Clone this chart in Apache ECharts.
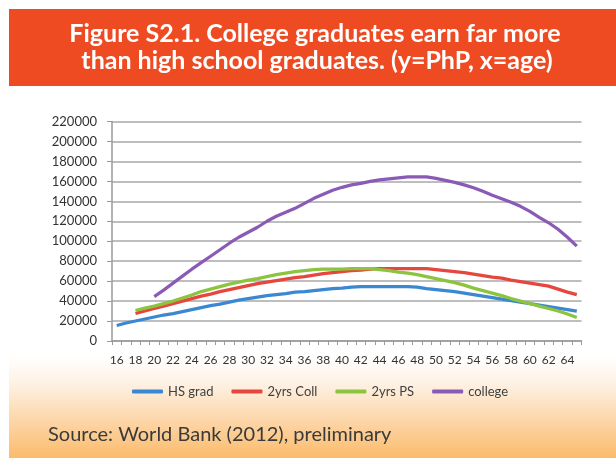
<!DOCTYPE html>
<html>
<head>
<meta charset="utf-8">
<script src="https://cdn.jsdelivr.net/npm/echarts@6/dist/echarts.min.js"></script>
<style>
html,body{margin:0;padding:0;background:#fff;}
#chart{width:616px;height:458px;}
</style>
</head>
<body>
<div id="chart"></div>
<script>
// ---- data ----
var ages = [];
for (var a = 16; a <= 65; a++) ages.push(String(a));

var seriesNames = ['HS grad', '2yrs Coll', '2yrs PS', 'college'];

var hsGrad = [15500,18000,20000,22000,24000,26000,27500,29500,31500,33500,
  35500,37000,39000,41000,42500,44000,45500,46500,47500,49000,
  49500,50500,51500,52500,53000,54000,54500,54500,54500,54500,
  54500,54500,54000,52500,51500,50500,49500,48000,46500,45000,
  43500,42000,40500,39000,37500,36000,34500,33000,31500,30000];

var twoYrsColl = [null,null,27500,30000,32500,35000,37500,40000,42500,45000,
  47000,49500,51500,53500,55500,57500,59000,60500,62000,63500,
  64500,66000,67500,68500,69500,70500,71000,72000,72500,72500,
  72500,72500,72500,72500,71500,70500,69500,68500,67000,65500,
  64000,63000,61000,59500,58000,56500,55000,52000,49000,46500];

var twoYrsPS = [null,null,30500,33000,35000,37500,40000,43000,46000,49500,
  52000,54500,57000,59000,61000,62500,64500,66500,68000,69500,
  70500,71500,72000,72000,72000,72500,72500,72500,71500,70500,
  69000,68000,66500,64500,62500,60500,58500,56000,53000,50500,
  48000,45500,42500,40000,37500,35000,32500,30000,27000,23500];

var college = [null,null,null,null,44500,51000,58000,65000,72000,78500,
  85000,91500,98000,104000,109000,114000,120000,125000,129000,133000,
  138000,143000,147000,151000,154000,156500,158000,160000,161500,162500,
  163500,164500,164500,164500,163000,161000,159000,156500,153500,150000,
  146000,142500,139000,135000,130000,124000,118500,112000,104000,95000];

var yTicks = [0,20000,40000,60000,80000,100000,120000,140000,160000,180000,200000,220000];

var titleLines = ['Figure S2.1. College graduates earn far more', 'than high school graduates. (y=PhP, x=age)'];
var sourceText = 'Source: World Bank (2012), preliminary';

var colors = ['#3a87d2', '#e5463d', '#8cc440', '#8a5bb6'];
var values = [hsGrad, twoYrsColl, twoYrsPS, college];

// ---- chart ----
var chart = echarts.init(document.getElementById('chart'), null, {renderer: 'canvas'});

var series = seriesNames.map(function (n, i) {
  return {
    name: n,
    type: 'line',
    data: values[i],
    showSymbol: false,
    symbol: 'none',
    connectNulls: false,
    lineStyle: {width: 3.2, color: colors[i]},
    itemStyle: {color: colors[i]},
    z: 3
  };
});

var titleStyle = {
  fill: '#ffffff',
  font: 'bold 25px Lato',
  textAlign: 'center',
  textVerticalAlign: 'middle'
};

chart.setOption({
  animation: false,
  backgroundColor: '#ffffff',
  graphic: [
    {
      type: 'rect', z: -10, silent: true,
      shape: {x: 9, y: 355, width: 607, height: 103},
      style: {
        fill: new echarts.graphic.LinearGradient(0, 0, 0, 1, [
          {offset: 0, color: '#ffffff'},
          {offset: 0.25, color: '#fef3e8'},
          {offset: 1, color: '#fbbb6c'}
        ])
      }
    },
    {
      type: 'rect', z: -10, silent: true,
      shape: {x: 9, y: 9, width: 607, height: 77},
      style: {fill: '#ef4b23'}
    },
    {
      type: 'text', z: 10, silent: true,
      x: 315, y: 34,
      style: Object.assign({text: titleLines[0]}, titleStyle)
    },
    {
      type: 'text', z: 10, silent: true,
      x: 317, y: 61,
      style: Object.assign({text: titleLines[1]}, titleStyle)
    }
  ],
  title: {
    text: sourceText,
    left: 48,
    top: 425,
    padding: 0,
    textStyle: {
      color: '#3a3a3a',
      fontFamily: 'Lato',
      fontWeight: 'normal',
      fontSize: 20
    }
  },
  legend: {
    data: seriesNames,
    left: 132,
    top: 385,
    padding: 0,
    itemWidth: 31,
    itemHeight: 4,
    itemGap: 18,
    icon: 'roundRect',
    textStyle: {color: '#404040', fontFamily: 'Lato', fontSize: 13}
  },
  grid: {left: 112, right: 34.5, top: 121.5, bottom: 117, containLabel: false},
  xAxis: {
    type: 'category',
    data: ages,
    boundaryGap: true,
    axisLine: {lineStyle: {color: '#9a9a9a', width: 1.5}},
    axisTick: {show: true, interval: 0, length: 4, lineStyle: {color: '#9a9a9a'}},
    axisLabel: {interval: 1, margin: 13, color: '#333333', fontFamily: 'Lato', fontSize: 12},
    splitLine: {show: false}
  },
  yAxis: {
    type: 'value',
    min: yTicks[0],
    max: yTicks[yTicks.length - 1],
    interval: yTicks[1] - yTicks[0],
    axisLine: {show: true, lineStyle: {color: '#9a9a9a', width: 1.5}},
    axisTick: {show: true, length: 5, lineStyle: {color: '#9a9a9a'}},
    axisLabel: {
      margin: 15, color: '#333333', fontFamily: 'Lato', fontSize: 13,
      formatter: function (v) { return String(v); }
    },
    splitLine: {show: true, lineStyle: {color: '#a8a8a8', width: 1.5}}
  },
  series: series
});
</script>
</body>
</html>
